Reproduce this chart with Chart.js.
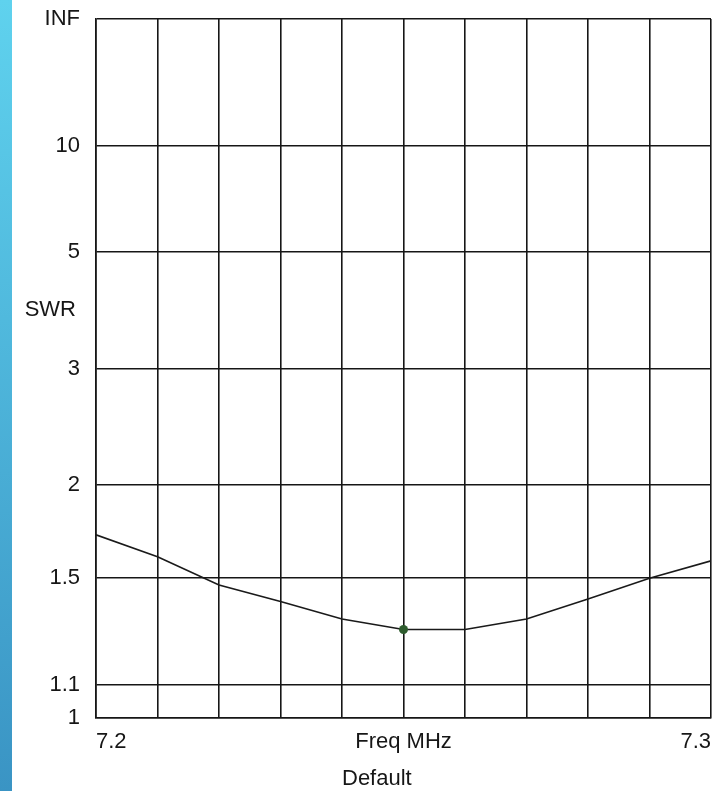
<!DOCTYPE html>
<html lang="en">
<head>
    <meta charset="UTF-8">
    <title>SWR Chart</title>
    <script src="https://cdn.jsdelivr.net/npm/chart.js"></script>
    <style>
        body {
            margin: 0;
            background-color: #ffffff;
            font-family: 'Liberation Sans', Arial, sans-serif;
        }
        #wrap {
            position: relative;
            width: 728px;
            height: 791px;
        }
        #strip {
            position: absolute;
            left: 0;
            top: 0;
            width: 12px;
            height: 791px;
            background: linear-gradient(to bottom, #5fd2ee, #3a94c4);
        }
        canvas {
            position: absolute;
            left: 0;
            top: 0;
        }
    </style>
</head>
<body>
<div id="wrap">
    <canvas id="swrChart" width="728" height="791"></canvas>
    <div id="strip"></div>
</div>
<script>
    // frequency points (MHz) and SWR readings
    const freqs = [7.20, 7.21, 7.22, 7.23, 7.24, 7.25, 7.26, 7.27, 7.28, 7.29, 7.30];
    const swrValues = [1.71, 1.60, 1.47, 1.40, 1.33, 1.29, 1.29, 1.33, 1.41, 1.50, 1.58];
    const freqLabels = ['7.2', '', '', '', '', 'Freq MHz', '', '', '', '', '7.3'];
    const swrTicks = [1, 1.1, 1.5, 2, 3, 5, 10, Infinity];
    const swrTickLabels = ['1', '1.1', '1.5', '2', '3', '5', '10', 'INF'];
    const markerIndex = 5;

    // SWR chart paper is linear in reflection coefficient
    function toRho(swr) {
        if (!isFinite(swr)) return 1;
        return (swr - 1) / (swr + 1);
    }

    const font = { family: "'Liberation Sans', Arial, sans-serif", size: 22 };
    const ink = '#161616';

    const extraText = {
        id: 'extraText',
        afterDraw(chart) {
            const ctx = chart.ctx;
            const y = chart.scales.y;
            ctx.save();
            ctx.fillStyle = ink;
            ctx.font = '22px ' + font.family;
            ctx.textBaseline = 'middle';
            ctx.textAlign = 'right';
            const midY = (y.getPixelForValue(toRho(5)) + y.getPixelForValue(toRho(3))) / 2;
            ctx.fillText('SWR', 76, midY);
            ctx.textAlign = 'left';
            ctx.fillText('Default', 342, 779);
            ctx.restore();
        }
    };

    const ctx = document.getElementById('swrChart').getContext('2d');
    new Chart(ctx, {
        type: 'line',
        data: {
            datasets: [{
                data: freqs.map((f, i) => ({ x: f, y: toRho(swrValues[i]) })),
                borderColor: '#1a1a1a',
                borderWidth: 1.6,
                tension: 0,
                pointRadius: c => c.dataIndex === markerIndex ? 4.5 : 0,
                pointBackgroundColor: '#2e5c2e',
                pointBorderColor: '#2e5c2e',
                pointBorderWidth: 0
            }]
        },
        options: {
            responsive: false,
            animation: false,
            layout: { padding: { top: 19, right: 17, left: 0, bottom: 0 } },
            plugins: {
                legend: { display: false },
                tooltip: { enabled: false }
            },
            scales: {
                x: {
                    type: 'linear',
                    min: freqs[0],
                    max: freqs[freqs.length - 1],
                    afterBuildTicks: s => { s.ticks = freqs.map(v => ({ value: v })); },
                    afterFit: s => { s.height = 73; s.paddingLeft = 0; s.paddingRight = 0; },
                    border: { color: ink, width: 1.6 },
                    grid: { color: ink, lineWidth: 1.6, drawTicks: false },
                    ticks: {
                        autoSkip: false,
                        maxRotation: 0,
                        align: 'inner',
                        padding: 11,
                        color: ink,
                        font: font,
                        callback: (v, i) => freqLabels[i]
                    }
                },
                y: {
                    type: 'linear',
                    min: 0,
                    max: 1,
                    afterBuildTicks: s => { s.ticks = swrTicks.map(v => ({ value: toRho(v) })); },
                    afterFit: s => { s.width = 96; s.paddingTop = 0; s.paddingBottom = 0; },
                    border: { color: ink, width: 1.6 },
                    grid: { color: ink, lineWidth: 1.6, drawTicks: false },
                    ticks: {
                        autoSkip: false,
                        padding: 16,
                        color: ink,
                        font: font,
                        callback: (v, i) => swrTickLabels[i]
                    }
                }
            }
        },
        plugins: [extraText]
    });
</script>
</body>
</html>
